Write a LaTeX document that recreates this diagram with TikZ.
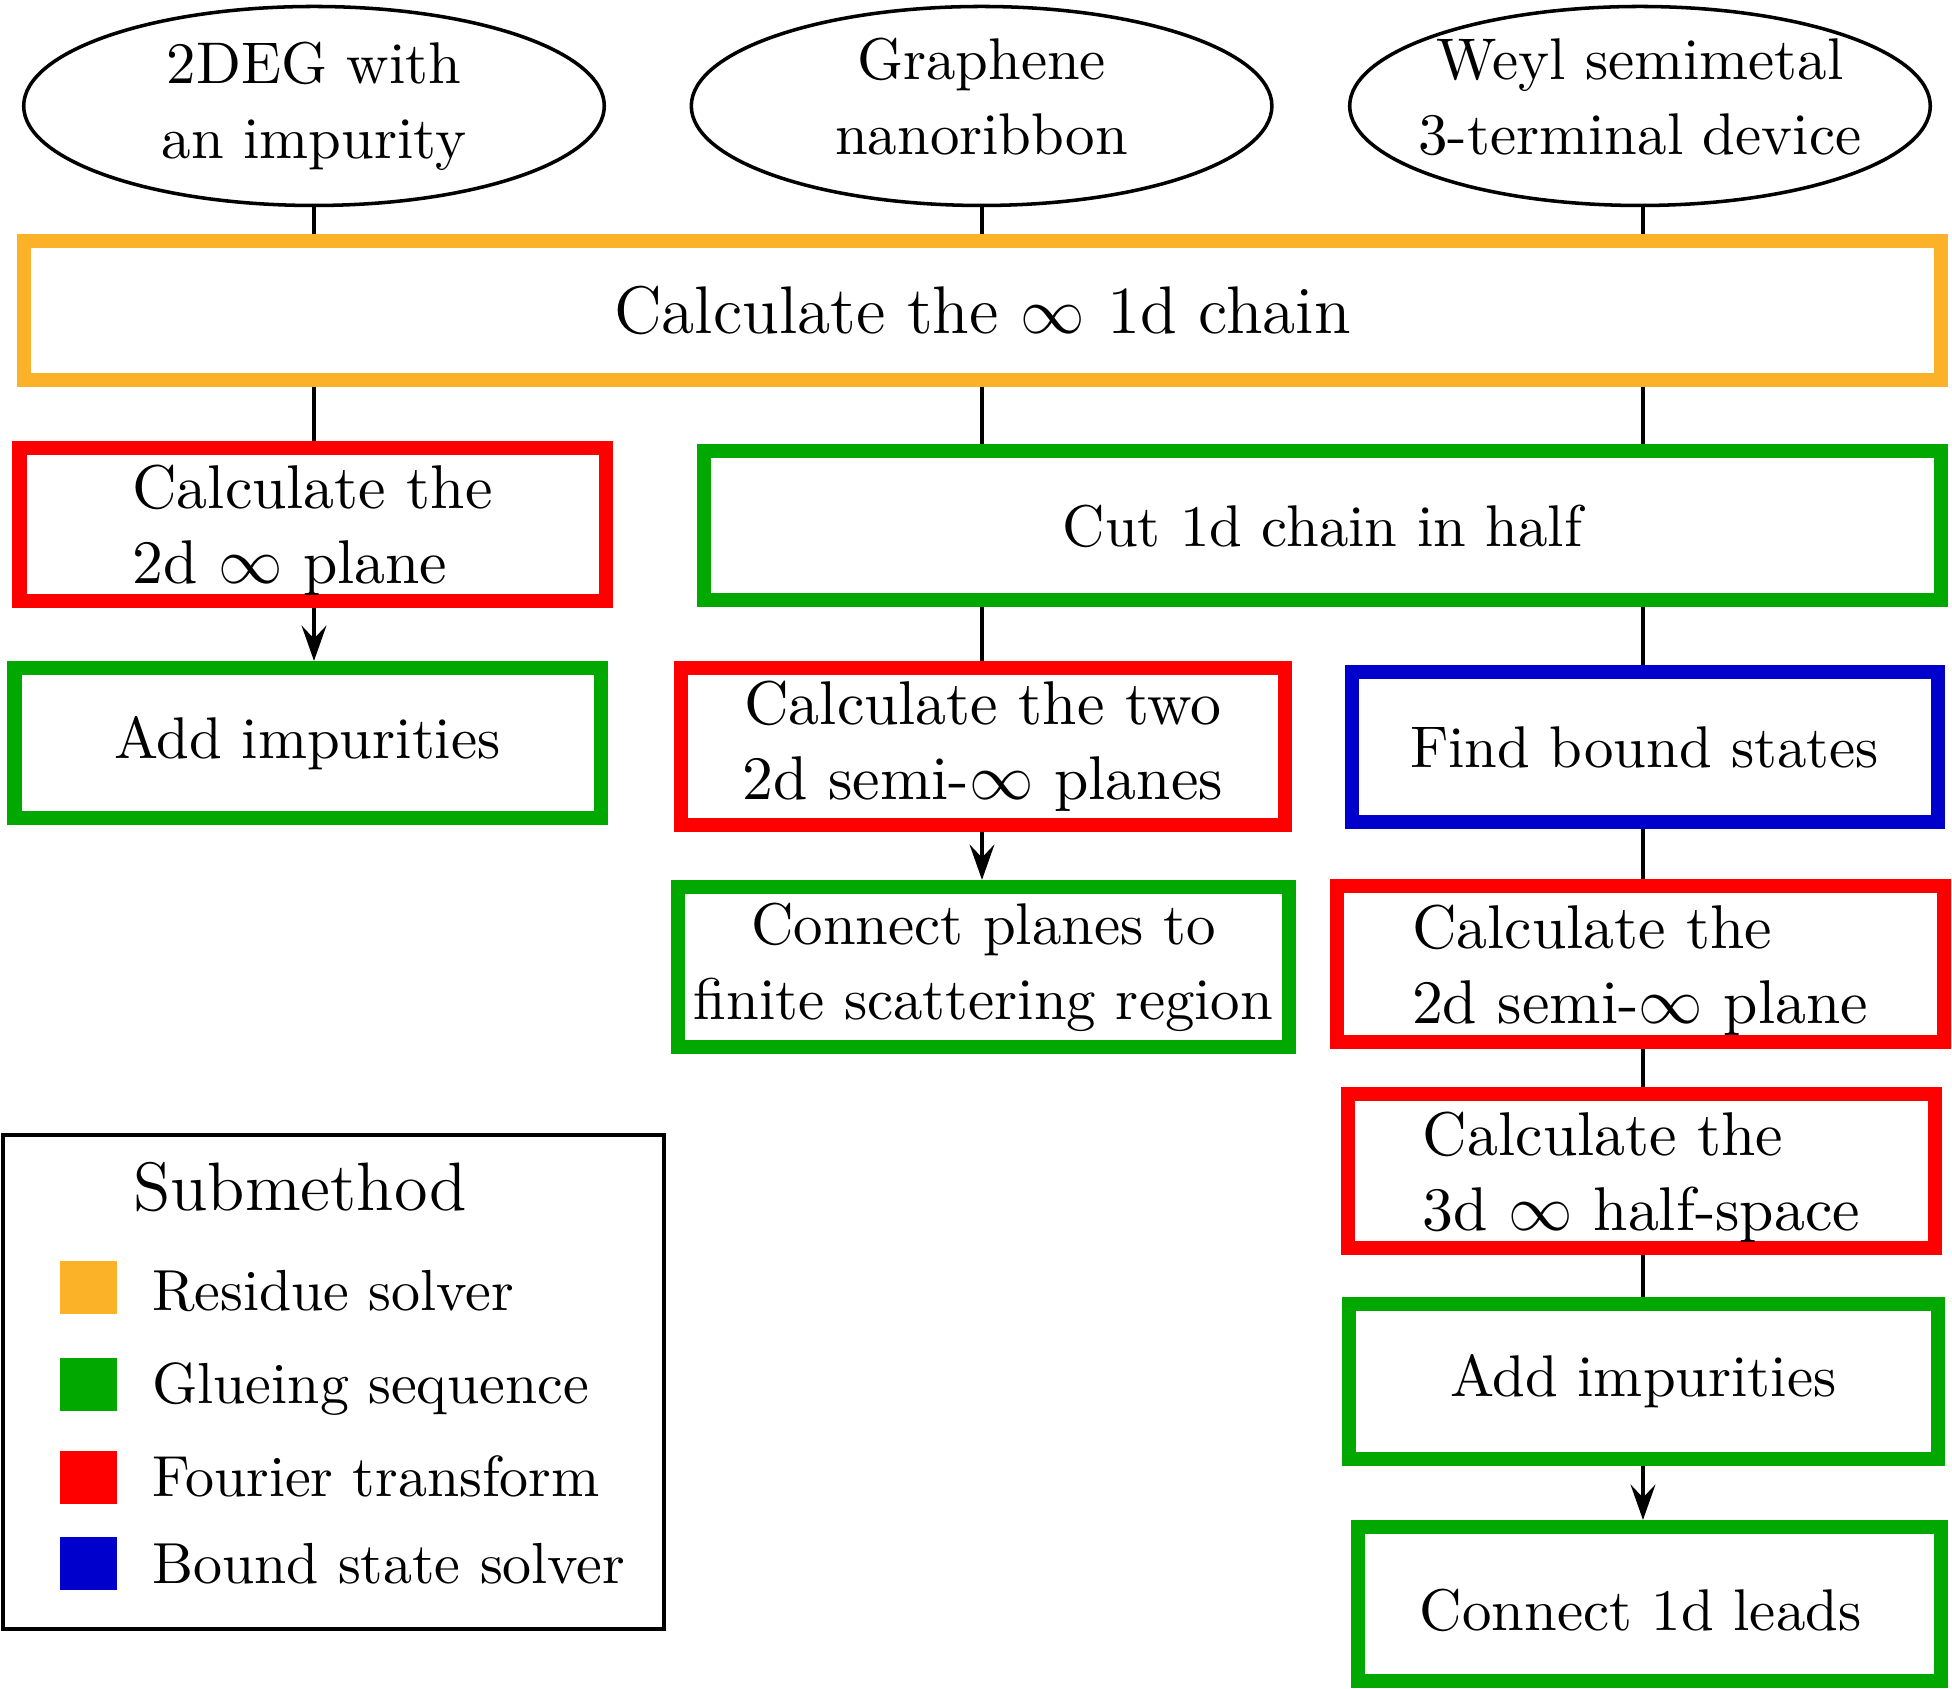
\documentclass[tikz,border=0pt]{standalone}
\usetikzlibrary{arrows.meta,shapes.geometric}
\definecolor{cOrange}{RGB}{252,178,40}
\definecolor{cGreen}{RGB}{0,168,0}
\definecolor{cRed}{RGB}{255,0,0}
\definecolor{cBlue}{RGB}{0,0,204}
\tikzset{
  sz/.style 2 args={minimum width=#1*0.17pt, minimum height=#2*0.17pt},
  txt/.style={font=\fontsize{10}{12.7}\selectfont},
  redtxt/.style={font=\fontsize{10.5}{12.7}\selectfont},
  bigtxt/.style={font=\fontsize{11.45}{14}\selectfont},
  mbox/.style={draw=#1, line width=2.38pt, inner sep=0pt, align=center, txt},
  src/.style={draw, ellipse, line width=0.6pt, inner ysep=0pt, inner xsep=-4pt, align=center, txt},
  conn/.style={line width=0.75pt},
  arr/.style={conn, -{Stealth[length=6pt,width=4.2pt,inset=2.2pt]}},
  swatch/.style={fill=#1, inner sep=0pt, sz={57}{53}},
  lbl/.style={anchor=base west, inner sep=0pt, font=\fontsize{9.85}{12}\selectfont},
}
\begin{document}
\begin{tikzpicture}[x=0.17pt, y=-0.17pt]
\useasboundingbox (0,0) rectangle (1952,1689);

% sources
\node[src, sz={580.6}{199}] (e1) at (314,106) {2DEG with\\an impurity};
\node[src, sz={580.6}{199}, text depth=3.2pt] (e2) at (981.6,106) {Graphene\\nanoribbon};
\node[src, sz={580.6}{199}, text depth=3.2pt] (e3) at (1640,106) {Weyl semimetal\\3-terminal device};

% boxes
\node[mbox=cOrange, sz={1917}{139}, bigtxt] (chain) at (982.5,310.5) {Calculate the $\infty$ 1d chain};
\node[mbox=cRed, sz={586}{152.6}, align=left, redtxt, text depth=0pt] (plane) at (312.5,524.3) {Calculate the\\2d $\infty$ plane};
\node[mbox=cGreen, sz={586}{150}] (imp1) at (307.5,743) {Add impurities};
\node[mbox=cGreen, sz={1237}{149}] (cut) at (1322.5,526) {Cut 1d chain in half};
\node[mbox=cRed, sz={604.5}{156.7}, redtxt] (two) at (982.8,746.4) {Calculate the two\\2d semi-$\infty$ planes};
\node[mbox=cBlue, sz={586}{150}] (bound) at (1644.6,747) {Find bound states};
\node[mbox=cGreen, sz={611}{160.5}] (scat) at (983.5,967.2) {Connect planes to\\finite scattering region};
\node[mbox=cRed, sz={607}{156.5}, align=left, redtxt, text depth=0pt] (semi) at (1640,964.2) {Calculate the\\2d semi-$\infty$ plane};
\node[mbox=cRed, sz={587}{154}, align=left, redtxt, text depth=0pt] (half) at (1641.5,1171) {Calculate the\\3d $\infty$ half-space};
\node[mbox=cGreen, sz={588.7}{155}] (imp2) at (1643.3,1381.5) {Add impurities};
\node[mbox=cGreen, sz={583}{154}, text height=9pt, text depth=0pt] (leads) at (1649.5,1604) {Connect 1d leads\kern3pt};

% column guides
\coordinate (c1) at (314,0);
\coordinate (c2) at (982,0);
\coordinate (c3) at (1643,0);

% connectors
\draw[conn] (c1 |- e1.south) -- (c1 |- chain.north);
\draw[conn] (c2 |- e2.south) -- (c2 |- chain.north);
\draw[conn] (c3 |- e3.south) -- (c3 |- chain.north);
\draw[conn] (c1 |- chain.south) -- (c1 |- plane.north);
\draw[conn] (c2 |- chain.south) -- (c2 |- cut.north);
\draw[conn] (c3 |- chain.south) -- (c3 |- cut.north);
\draw[arr]  (c1 |- plane.south) -- (c1 |- imp1.north);
\draw[conn] (c2 |- cut.south) -- (c2 |- two.north);
\draw[arr]  (c2 |- two.south) -- (c2 |- scat.north);
\draw[conn] (c3 |- cut.south) -- (c3 |- bound.north);
\draw[conn] (c3 |- bound.south) -- (c3 |- semi.north);
\draw[conn] (c3 |- semi.south) -- (c3 |- half.north);
\draw[conn] (c3 |- half.south) -- (c3 |- imp2.north);
\draw[arr]  (c3 |- imp2.south) -- (c3 |- leads.north);

% legend
\node[draw, line width=0.75pt, inner sep=0pt, sz={661}{494}] (legend) at (333.5,1382) {};
\node[anchor=base, inner sep=0pt, font=\fontsize{11.65}{14}\selectfont] (ltitle) at (300,1211) {Submethod};
\node[swatch=cOrange] (s1) at (88,1288) {};
\node[swatch=cGreen]  (s2) at (88,1384.5) {};
\node[swatch=cRed]    (s3) at (88,1478) {};
\node[swatch=cBlue]   (s4) at (88,1564) {};
\node[lbl] (l1) at (151,1311) {Residue solver};
\node[lbl] (l2) at (151,1404) {Glueing sequence};
\node[lbl] (l3) at (151,1497) {Fourier transform};
\node[lbl] (l4) at (151,1584) {Bound state solver};
\end{tikzpicture}
\end{document}
